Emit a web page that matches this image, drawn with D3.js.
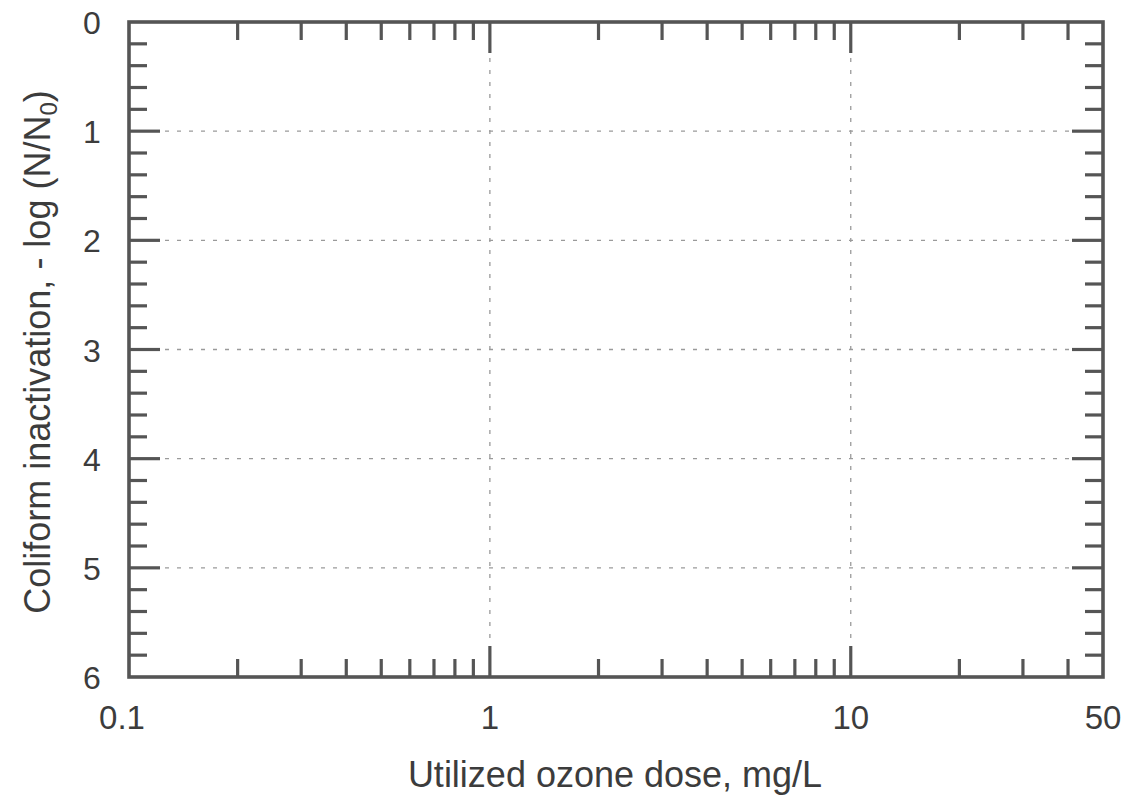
<!DOCTYPE html>
<html>
<head>
  <meta charset="utf-8">
  <title>Coliform inactivation vs utilized ozone dose</title>
  <script src="https://d3js.org/d3.v7.min.js"></script>
  <style>
    body { margin: 0; background: #fff; font-family: 'Liberation Sans', Arial, Helvetica, sans-serif; }
    text { fill: #3c3c3c; }
  </style>
</head>
<body>
  <div id="chart"></div>
  <script>
    // axis data
    const xDomain = [0.1, 50];
    const yDomain = [0, 6];
    const xLabels = [0.1, 1, 10, 50];
    const xMajor = [1, 10];
    const xMinor = [0.2, 0.3, 0.4, 0.5, 0.6, 0.7, 0.8, 0.9, 2, 3, 4, 5, 6, 7, 8, 9, 20, 30, 40];
    const yLabels = [0, 1, 2, 3, 4, 5, 6];
    const yMajor = [1, 2, 3, 4, 5];
    const yMinor = d3.range(0.2, 6, 0.2).filter(v => Math.abs(v - Math.round(v)) > 0.01);
    const xTitle = "Utilized ozone dose, mg/L";

    const W = 1133, H = 796;
    const pLeft = 129, pRight = 1103, pTop = 22, pBottom = 677;
    const frame = "#555";

    const svg = d3.select("#chart").append("svg")
      .attr("width", W).attr("height", H);

    const x = d3.scaleLog().domain(xDomain).range([pLeft, pRight]);
    const y = d3.scaleLinear().domain(yDomain).range([pTop, pBottom]);

    // grid
    const grid = svg.append("g")
      .attr("stroke", "#9a9a9a")
      .attr("stroke-width", 1.3)
      .attr("stroke-dasharray", "4,8");
    grid.selectAll("line.gx").data(xMajor).enter().append("line")
      .attr("x1", d => x(d)).attr("x2", d => x(d))
      .attr("y1", pTop).attr("y2", pBottom);
    grid.selectAll("line.gy").data(yMajor).enter().append("line")
      .attr("x1", pLeft).attr("x2", pRight)
      .attr("y1", d => y(d)).attr("y2", d => y(d));

    // ticks, inward on all four sides
    const ticks = svg.append("g").attr("stroke", frame).attr("stroke-width", 3.2);
    function xTicks(vals, len) {
      vals.forEach(v => {
        ticks.append("line").attr("x1", x(v)).attr("x2", x(v)).attr("y1", pTop).attr("y2", pTop + len);
        ticks.append("line").attr("x1", x(v)).attr("x2", x(v)).attr("y1", pBottom).attr("y2", pBottom - len);
      });
    }
    function yTicks(vals, len) {
      vals.forEach(v => {
        ticks.append("line").attr("y1", y(v)).attr("y2", y(v)).attr("x1", pLeft).attr("x2", pLeft + len);
        ticks.append("line").attr("y1", y(v)).attr("y2", y(v)).attr("x1", pRight).attr("x2", pRight - len);
      });
    }
    xTicks(xMinor, 18);
    xTicks(xMajor, 31);
    yTicks(yMinor, 18);
    yTicks(yMajor, 31);

    // frame
    svg.append("rect")
      .attr("x", pLeft).attr("y", pTop)
      .attr("width", pRight - pLeft).attr("height", pBottom - pTop)
      .attr("fill", "none").attr("stroke", frame).attr("stroke-width", 3.6);

    // tick labels
    svg.append("g").selectAll("text").data(yLabels).enter().append("text")
      .attr("x", 92).attr("y", d => y(d) + 12)
      .attr("text-anchor", "middle")
      .attr("font-size", 32)
      .text(d => d);

    svg.append("g").selectAll("text").data(xLabels).enter().append("text")
      .attr("x", d => d === 0.1 ? x(d) - 7 : x(d)).attr("y", 729)
      .attr("text-anchor", "middle")
      .attr("font-size", 33)
      .text(d => d);

    // axis titles
    svg.append("text")
      .attr("x", 615).attr("y", 787)
      .attr("text-anchor", "middle")
      .attr("font-size", 36)
      .text(xTitle);

    const yt = svg.append("text")
      .attr("transform", "translate(50,352) rotate(-90)")
      .attr("text-anchor", "middle")
      .attr("font-size", 36);
    yt.append("tspan").text("Coliform inactivation, - log (N/N");
    yt.append("tspan").attr("font-size", 24).attr("dy", 7).text("0");
    yt.append("tspan").attr("dy", -7).text(")");
  </script>
</body>
</html>
